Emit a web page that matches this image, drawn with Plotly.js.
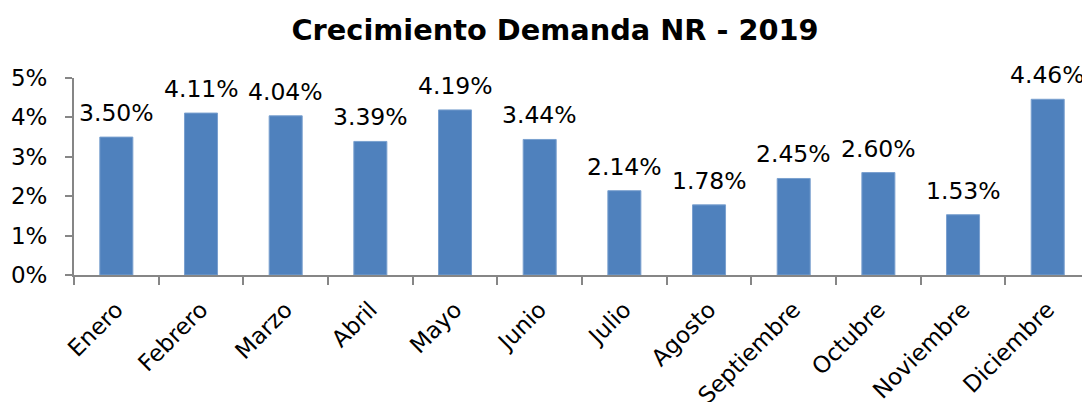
<!DOCTYPE html>
<html>
<head>
<meta charset="utf-8">
<script src="https://cdn.plot.ly/plotly-3.0.1.min.js"></script>
<style>html,body{margin:0;padding:0;background:#fff;overflow:hidden}#chart{width:1082px;height:402px}</style>
</head>
<body>
<div id="chart"></div>
<script>
const months = ["Enero","Febrero","Marzo","Abril","Mayo","Junio","Julio","Agosto","Septiembre","Octubre","Noviembre","Diciembre"];
const growth = [3.50, 4.11, 4.04, 3.39, 4.19, 3.44, 2.14, 1.78, 2.45, 2.60, 1.53, 4.46];
const yTicks = [0, 1, 2, 3, 4, 5];
const titleText = "Crecimiento Demanda NR - 2019";

const font = "Verdana, 'DejaVu Sans', sans-serif";
const trace = {
  type: "bar",
  x: months,
  y: growth,
  marker: {color: "#4F81BD", line: {color: "#7AA0CF", width: 1}},
  hoverinfo: "skip"
};
const annotations = months.map((m, i) => ({
  x: m, y: growth[i], xref: "x", yref: "y",
  text: growth[i].toFixed(2) + "%",
  showarrow: false, yanchor: "bottom", xanchor: "center", yshift: 8,
  font: {family: font, size: 23.5, color: "#000"}
}));
const layout = {
  width: 1082, height: 402,
  margin: {l: 74, r: 0, t: 78, b: 127, pad: 0},
  paper_bgcolor: "#fff", plot_bgcolor: "#fff",
  showlegend: false,
  bargap: 0.61,
  title: {text: "<b>" + titleText + "</b>", x: 0.513, xanchor: "center", y: 0.925, yanchor: "middle",
          font: {family: font, size: 28.8, color: "#000"}},
  xaxis: {
    type: "category", range: [-0.5, 11.405],
    tickson: "boundaries", ticks: "outside", ticklen: 8, tickcolor: "#868686", tickwidth: 2,
    showline: true, linecolor: "#868686", linewidth: 2,
    tickangle: -45, tickfont: {family: font, size: 23, color: "#000"},
    ticklabelstandoff: 10,
    showgrid: false, zeroline: false, fixedrange: true
  },
  yaxis: {
    range: [0, 5], tickvals: yTicks, ticktext: yTicks.map(v => v + "%"),
    ticks: "outside", ticklen: 7, tickcolor: "#868686", tickwidth: 2,
    showline: true, linecolor: "#868686", linewidth: 2,
    tickfont: {family: font, size: 23, color: "#000"},
    ticklabelstandoff: 13,
    showgrid: false, zeroline: false, fixedrange: true
  },
  annotations: annotations
};
Plotly.newPlot("chart", [trace], layout, {staticPlot: true, displayModeBar: false});
</script>
</body>
</html>
